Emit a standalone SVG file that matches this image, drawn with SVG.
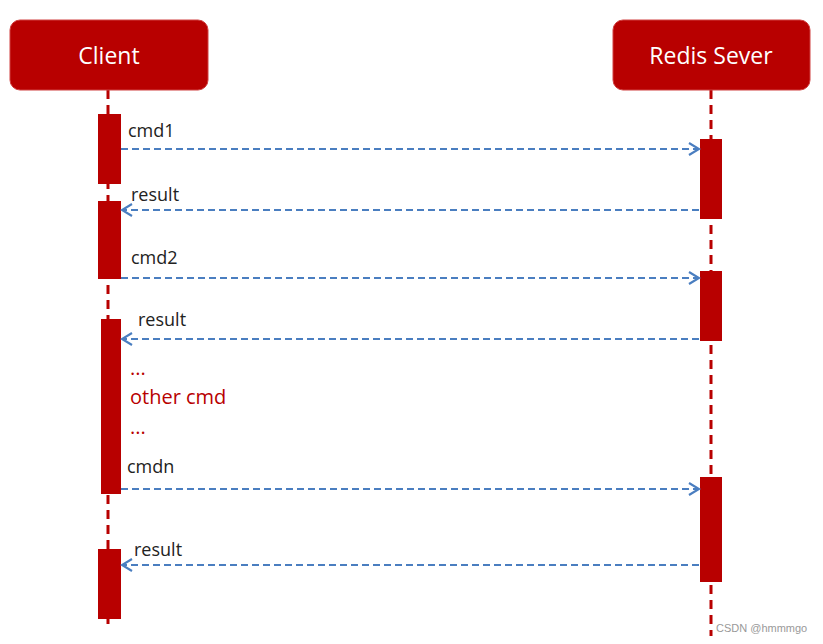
<svg xmlns="http://www.w3.org/2000/svg" width="823" height="644" viewBox="0 0 823 644">
<style>
.box{fill:#B80000;stroke:#D04040;stroke-width:1}
.hd{font-family:"Open Sans","Liberation Sans",sans-serif;font-size:23px;fill:#fff;text-anchor:middle}
.life{stroke:#B80000;stroke-width:3;stroke-dasharray:9,6;fill:none}
.act{fill:#B80000}
.msg{stroke:#4A7EC0;stroke-width:2.2;stroke-dasharray:7,4;fill:none}
.lb{font-family:"Open Sans","Liberation Sans",sans-serif;font-size:18px;fill:#222}
.rd{font-family:"Open Sans","Liberation Sans",sans-serif;font-size:20px;fill:#B80000}
</style>
<defs>
<marker id="ah" markerWidth="14" markerHeight="14" refX="12" refY="7" orient="auto-start-reverse" markerUnits="userSpaceOnUse">
<path d="M2,1 L12,7 L2,13" fill="none" stroke="#4A7EC0" stroke-width="2.2"/>
</marker>
</defs>
<rect width="823" height="644" fill="#fff"/>
<g id="lifelines">
<line class="life" x1="108" y1="90" x2="108" y2="630"/>
<line class="life" x1="711" y1="90" x2="711" y2="636"/>
</g>
<g id="client"><rect class="box" x="10" y="20" width="198" height="70" rx="10"/><text class="hd" x="109" y="64">Client</text></g>
<g id="redis"><rect class="box" x="613" y="20" width="197" height="70" rx="10"/><text class="hd" x="711" y="64">Redis Sever</text></g>
<g id="activations">
<rect class="act" x="98" y="114" width="23" height="70"/>
<rect class="act" x="98" y="201" width="23" height="78"/>
<rect class="act" x="101" y="319" width="20" height="175"/>
<rect class="act" x="98" y="549" width="23" height="70"/>
<rect class="act" x="700" y="139" width="22" height="80"/>
<rect class="act" x="700" y="271" width="22" height="70"/>
<rect class="act" x="700" y="477" width="22" height="105"/>
</g>
<g id="connectors">
<line class="msg" x1="121" y1="149" x2="699" y2="149" marker-end="url(#ah)"/>
<line class="msg" x1="699" y1="210" x2="122" y2="210" marker-end="url(#ah)"/>
<line class="msg" x1="121" y1="278" x2="699" y2="278" marker-end="url(#ah)"/>
<line class="msg" x1="699" y1="339" x2="122" y2="339" marker-end="url(#ah)"/>
<line class="msg" x1="121" y1="489" x2="699" y2="489" marker-end="url(#ah)"/>
<line class="msg" x1="699" y1="565" x2="122" y2="565" marker-end="url(#ah)"/>
</g>
<g id="labels">
<text class="lb" x="128" y="137">cmd1</text>
<text class="lb" x="131" y="201">result</text>
<text class="lb" x="131" y="264">cmd2</text>
<text class="lb" x="138" y="326">result</text>
<text class="rd" x="130" y="375">...</text>
<text class="rd" x="130" y="404">other cmd</text>
<text class="rd" x="130" y="434">...</text>
<text class="lb" x="127" y="473">cmdn</text>
<text class="lb" x="134" y="556">result</text>
<text x="716" y="632" font-family="Liberation Sans,sans-serif" font-size="11" fill="#999">CSDN @hmmmgo</text>
</g>
</svg>
